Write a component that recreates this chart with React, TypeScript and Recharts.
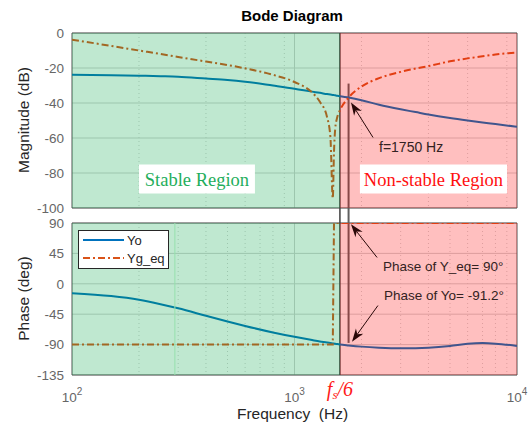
import React from 'react';
import {
  LineChart,
  Line,
  XAxis,
  YAxis,
  CartesianGrid,
  ReferenceArea,
  ReferenceLine,
  Legend,
} from 'recharts';

// frequency samples (Hz)
const freq = [100, 150, 200, 250, 300, 400, 500, 600, 800, 1000, 1200, 1300, 1400, 1450, 1486, 1505, 1522, 1557, 1600, 1750, 2000, 2400, 3000, 3500, 4000, 5000, 6000, 7000, 8000, 10000];

// magnitude (dB)
const yoMag = [-23.8, -24.1, -24.4, -24.7, -25.0, -26.0, -26.8, -27.8, -30.0, -31.8, -33.5, -34.2, -34.9, -35.2, -35.4, -35.5, -35.6, -35.8, -36.1, -36.9, -38.4, -41.0, -43.6, -45.2, -46.6, -48.6, -50.0, -51.1, -52.0, -53.6];
const ygMag = [-3.8, -7.4, -10.0, -12.0, -13.7, -16.3, -18.3, -20.2, -23.9, -28.0, -34.0, -39.3, -48.0, -59.4, -94.5, -68.0, -55.6, -48.0, -44.2, -36.9, -30.6, -25.8, -22.2, -20.3, -18.9, -16.2, -14.5, -13.3, -12.3, -11.2];

// phase (deg)
const yoPhase = [-13.9, -18.2, -23.7, -30.2, -36.3, -47.3, -55.8, -62.4, -72.0, -78.5, -83.3, -85.3, -86.8, -87.6, -88.2, -88.5, -88.8, -89.2, -89.8, -91.2, -93.0, -94.6, -95.5, -95.3, -94.6, -92.0, -88.8, -87.8, -88.6, -92.0];
const ygPhase = [-90, -90, -90, -90, -90, -90, -90, -90, -90, -90, -90, -90, -90, -90, -90, 90, 90, 90, 90, 90, 90, 90, 90, 90, 90, 90, 90, 90, 90, 90];

const seriesNames = ['Yo', 'Yg_eq'];
const seriesColors = ['#0072bd', '#d95319'];
const dashDot = '7 3 2 3';

const magTicks = [0, -20, -40, -60, -80, -100];
const phaseTicks = [90, 45, 0, -45, -90, -135];
const freqTicks = [100, 1000, 1600, 10000];
const majorGrid = [1000];
const minorGrid = [200, 300, 400, 500, 600, 700, 800, 900, 2000, 3000, 4000, 5000, 6000, 7000, 8000, 9000];

const fBoundary = 1600; // fs/6
const fMarker = 1750;

const magData = freq.map((f, i) => ({ f, yo: yoMag[i], yg: ygMag[i] }));
const phaseData = freq.map((f, i) => ({ f, yo: yoPhase[i], yg: ygPhase[i] }));

const sans = 'Liberation Sans, Arial, Helvetica, sans-serif';
const serif = 'Liberation Serif, Times New Roman, serif';
const tickStyle = { fontSize: 13.5, fill: '#666', fontFamily: sans };

const ArrowShape = (p: any) => {
  const { x1, y1, x2, y2 } = p;
  const dx = x2 - x1;
  const dy = y2 - y1;
  const len = Math.hypot(dx, dy) || 1;
  const ux = dx / len;
  const uy = dy / len;
  const hl = 13;
  const hw = 4.5;
  const bx = x2 - ux * hl;
  const by = y2 - uy * hl;
  const nx = x2 - ux * hl * 0.7;
  const ny = y2 - uy * hl * 0.7;
  const pts = `${x2},${y2} ${bx - uy * hw},${by + ux * hw} ${nx},${ny} ${bx + uy * hw},${by - ux * hw}`;
  return (
    <g>
      <line x1={x1} y1={y1} x2={nx} y2={ny} stroke="#2a0808" strokeWidth={1} />
      <polygon points={pts} fill="#2a0808" />
    </g>
  );
};

const FreqTick = ({ x, y, payload }: any) => {
  const v = payload.value;
  if (v === fBoundary) {
    return (
      <text x={x} y={y + 13} textAnchor="middle" fill="#ff1a1a" fontFamily={serif} fontStyle="italic" fontSize={20}>
        f<tspan fontSize={13} dy={3}>s</tspan>
        <tspan dy={-3}>/6</tspan>
      </text>
    );
  }
  const exp = Math.round(Math.log10(v));
  return (
    <text x={x} y={y + 19} textAnchor="middle" fill="#666" fontFamily={sans} fontSize={13.5}>
      10<tspan fontSize={10} dy={-7}>{exp}</tspan>
    </text>
  );
};

const LegendBox = () => (
  <svg width={91} height={39} style={{ display: 'block' }}>
    <rect x={0.5} y={0.5} width={90} height={38} fill="#fff" stroke="#262626" />
    {seriesNames.map((name, i) => (
      <g key={name}>
        <line
          x1={5}
          x2={46}
          y1={10 + i * 18}
          y2={10 + i * 18}
          stroke={seriesColors[i]}
          strokeWidth={2}
          strokeDasharray={i === 1 ? dashDot : undefined}
        />
        <text x={49} y={15 + i * 17.5} fontSize={13} fontFamily={sans} fill="#262626">
          {name}
        </text>
      </g>
    ))}
  </svg>
);

const xAxisProps = {
  dataKey: 'f',
  type: 'number' as const,
  scale: 'log' as const,
  domain: [100, 10000],
  allowDataOverflow: true,
};

export default function App() {
  return (
    <div style={{ position: 'fixed', left: 0, top: 0, width: 532, height: 425, background: '#fff' }}>
      {/* magnitude */}
      <div style={{ position: 'absolute', left: 0, top: 0 }}>
        <LineChart width={532} height={215} data={magData} margin={{ top: 33, right: 15, bottom: 7, left: 0 }}>
          <CartesianGrid stroke="#d2d2d2" horizontalValues={magTicks} verticalValues={majorGrid} />
          <CartesianGrid stroke="#d2d2d2" strokeDasharray="1 3" horizontal={false} verticalValues={minorGrid} />
          <XAxis {...xAxisProps} hide />
          <YAxis
            width={72}
            domain={[-100, 0]}
            ticks={magTicks}
            allowDataOverflow
            axisLine={false}
            tickLine={false}
            tick={tickStyle}
            interval={0}
          />
          <ReferenceArea x1={100} x2={10000} y1={-100} y2={0} fill="none" stroke="#505050" zIndex={300} />
          <ReferenceLine segment={[{ x: fBoundary, y: 0 }, { x: fBoundary, y: -104 }]} stroke="#404040" strokeWidth={1.5} ifOverflow="visible" zIndex={350} />
          <ReferenceLine segment={[{ x: fMarker, y: -28.9 }, { x: fMarker, y: -104 }]} stroke="#606060" strokeWidth={2} ifOverflow="visible" zIndex={350} />
          <Line dataKey="yo" type="monotone" stroke={seriesColors[0]} strokeWidth={2} dot={false} isAnimationActive={false} />
          <Line dataKey="yg" type="monotone" stroke={seriesColors[1]} strokeWidth={2} strokeDasharray={dashDot} dot={false} isAnimationActive={false} />
          <ReferenceArea x1={100} x2={fBoundary} y1={-100} y2={0} fill="#00a444" fillOpacity={0.25} stroke="none" zIndex={600} />
          <ReferenceArea x1={fBoundary} x2={10000} y1={-100} y2={0} fill="#ff0000" fillOpacity={0.25} stroke="none" zIndex={600} />
          <ReferenceArea
            x1={200}
            x2={664}
            y1={-91.7}
            y2={-75.1}
            fill="#fff"
            fillOpacity={1}
            stroke="none"
            zIndex={1900}
            label={{ value: 'Stable Region', position: 'center', fill: '#1fae5c', fontFamily: serif, fontSize: 18.5 }}
          />
          <ReferenceArea
            x1={1968}
            x2={9016}
            y1={-91.7}
            y2={-75.1}
            fill="#fff"
            fillOpacity={1}
            stroke="none"
            zIndex={1900}
            label={{ value: 'Non-stable Region', position: 'center', fill: '#ff1010', fontFamily: serif, fontSize: 18.5 }}
          />
          <ReferenceLine segment={[{ x: 2254, y: -59.7 }, { x: 1794, y: -39.7 }]} shape={ArrowShape} ifOverflow="visible" zIndex={2100} />
        </LineChart>
      </div>

      {/* phase */}
      <div style={{ position: 'absolute', left: 0, top: 215 }}>
        <LineChart width={532} height={210} data={phaseData} margin={{ top: 8, right: 15, bottom: 0, left: 0 }}>
          <CartesianGrid stroke="#d2d2d2" horizontalValues={phaseTicks} verticalValues={majorGrid} />
          <CartesianGrid stroke="#d2d2d2" strokeDasharray="1 3" horizontal={false} verticalValues={minorGrid} />
          <XAxis
            {...xAxisProps}
            height={50}
            ticks={freqTicks}
            interval={0}
            axisLine={false}
            tickLine={false}
            tick={<FreqTick />}
          />
          <YAxis
            width={72}
            domain={[-135, 90]}
            ticks={phaseTicks}
            allowDataOverflow
            axisLine={false}
            tickLine={false}
            tick={tickStyle}
            interval={0}
          />
          <ReferenceArea x1={100} x2={10000} y1={-135} y2={90} fill="none" stroke="#505050" zIndex={300} />
          <ReferenceLine segment={[{ x: fBoundary, y: 102 }, { x: fBoundary, y: -135 }]} stroke="#404040" strokeWidth={1.5} ifOverflow="visible" zIndex={350} />
          <ReferenceLine segment={[{ x: fMarker, y: 102 }, { x: fMarker, y: -87.5 }]} stroke="#606060" strokeWidth={2} ifOverflow="visible" zIndex={350} />
          <Line dataKey="yo" type="monotone" stroke={seriesColors[0]} strokeWidth={2} dot={false} isAnimationActive={false} />
          <Line dataKey="yg" type="linear" stroke={seriesColors[1]} strokeWidth={2} strokeDasharray={dashDot} dot={false} isAnimationActive={false} />
          <ReferenceArea x1={100} x2={fBoundary} y1={-135} y2={90} fill="#00a444" fillOpacity={0.25} stroke="none" zIndex={600} />
          <ReferenceArea x1={fBoundary} x2={10000} y1={-135} y2={90} fill="#ff0000" fillOpacity={0.25} stroke="none" zIndex={600} />
          <ReferenceLine x={290} stroke="#96e0ae" strokeWidth={1} zIndex={650} />
          <ReferenceLine segment={[{ x: 2350, y: 39 }, { x: 1794, y: 88 }]} shape={ArrowShape} ifOverflow="visible" zIndex={2100} />
          <ReferenceLine segment={[{ x: 2371, y: -32.2 }, { x: 1813, y: -85.6 }]} shape={ArrowShape} ifOverflow="visible" zIndex={2100} />
          <Legend
            layout="horizontal"
            verticalAlign="middle"
            align="center"
            content={<LegendBox />}
            wrapperStyle={{ left: 78, top: 15, width: 91, height: 39 }}
          />
        </LineChart>
      </div>

      {/* titles and annotations */}
      <svg width={532} height={425} style={{ position: 'absolute', left: 0, top: 0, pointerEvents: 'none' }}>
        <text x={292} y={21} textAnchor="middle" fontFamily={sans} fontWeight="bold" fontSize={15} fill="#000">
          Bode Diagram
        </text>
        <text transform="translate(29,120) rotate(-90)" textAnchor="middle" fontFamily={sans} fontSize={15.5} fill="#262626">
          Magnitude (dB)
        </text>
        <text transform="translate(29,298.5) rotate(-90)" textAnchor="middle" fontFamily={sans} fontSize={15.5} fill="#262626">
          Phase (deg)
        </text>
        <text x={292.5} y={419} textAnchor="middle" fontFamily={sans} fontSize={15.5} fill="#262626" style={{ whiteSpace: 'pre' }}>
          Frequency  (Hz)
        </text>
        <text x={379} y={152} fontFamily={sans} fontSize={14} fill="#332222">
          f=1750 Hz
        </text>
        <text x={383} y={271} fontFamily={sans} fontSize={13.5} fill="#332222">
          Phase of Y_eq= 90°
        </text>
        <text x={384} y={300} fontFamily={sans} fontSize={13.5} fill="#332222">
          Phase of Yo= -91.2°
        </text>
      </svg>
    </div>
  );
}
